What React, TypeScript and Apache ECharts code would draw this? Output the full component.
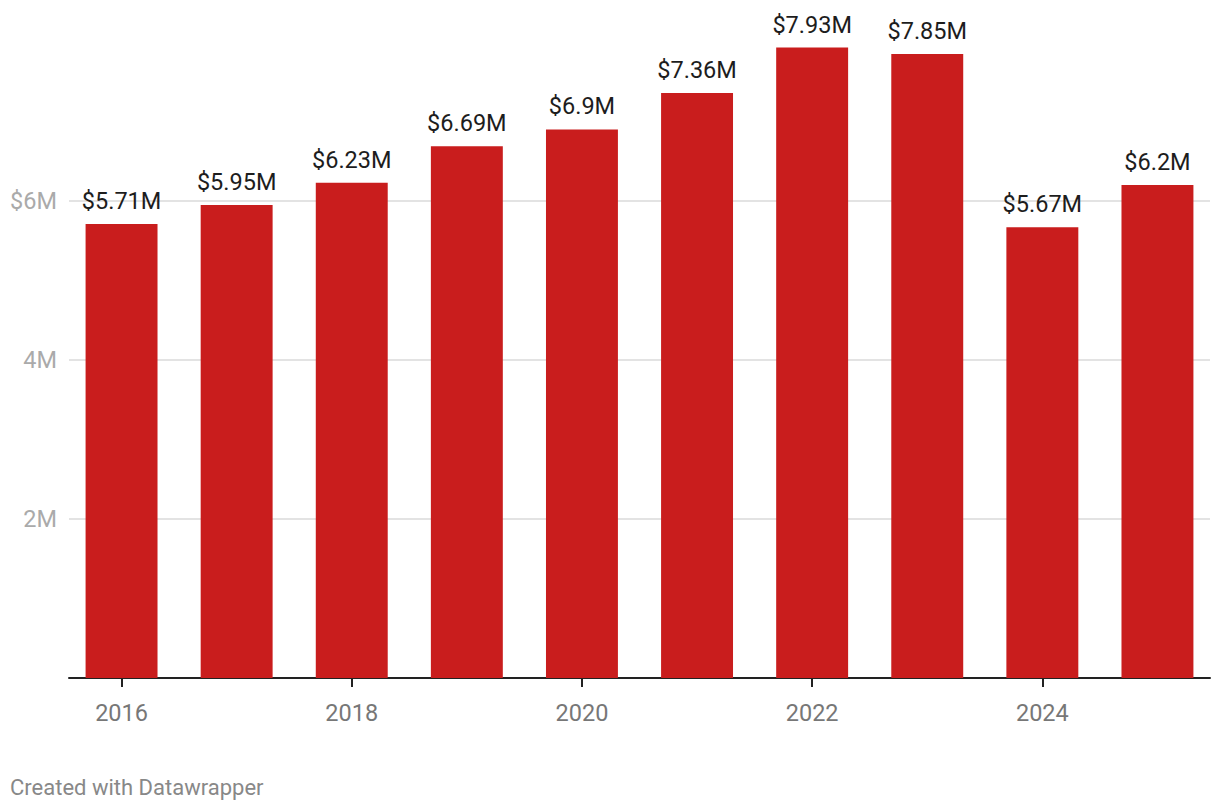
import React, { useEffect, useRef } from "react";
import * as echarts from "echarts";

const years = ["2016", "2017", "2018", "2019", "2020", "2021", "2022", "2023", "2024", "2025"];
const values = [5.71, 5.95, 6.23, 6.69, 6.9, 7.36, 7.93, 7.85, 5.67, 6.2];
const yTicks = [0, 2, 4, 6, 8];

const FONT = "Roboto, 'Noto Sans', sans-serif";

export default function App() {
  const ref = useRef<HTMLDivElement>(null);
  useEffect(() => {
    if (!ref.current) return;
    const chart = echarts.init(ref.current, undefined, { renderer: "svg" });
    chart.setOption({
      animation: false,
      backgroundColor: "#ffffff",
      textStyle: { fontFamily: FONT },
      grid: [
        { left: 64, right: 5, top: 42, height: 636 },
        { left: 69, right: 10, top: 42, height: 636 },
      ],
      xAxis: [
        {
          type: "category",
          data: years,
          gridIndex: 0,
          axisLine: { show: false },
          axisTick: {
            show: true,
            alignWithLabel: true,
            interval: 1,
            length: 9,
            lineStyle: { color: "#222", width: 2 },
          },
          axisLabel: {
            interval: 1,
            margin: 23,
            color: "#777",
            fontSize: 23.5,
            fontFamily: FONT,
          },
        },
        {
          type: "category",
          data: years,
          gridIndex: 1,
          axisLine: { show: true, lineStyle: { color: "#222", width: 2 } },
          axisTick: { show: false },
          axisLabel: { show: false },
        },
      ],
      yAxis: [
        {
          type: "value",
          gridIndex: 0,
          min: yTicks[0],
          max: yTicks[yTicks.length - 1],
          interval: 2,
          show: false,
          splitLine: { show: false },
        },
        {
          type: "value",
          gridIndex: 1,
          min: yTicks[0],
          max: yTicks[yTicks.length - 1],
          interval: 2,
          axisLine: { show: false },
          axisTick: { show: false },
          axisLabel: {
            showMinLabel: false,
            showMaxLabel: false,
            margin: 12,
            color: "#aaa",
            fontSize: 23.5,
            fontFamily: FONT,
            formatter: (v: number) => (v === 6 ? "$" + v + "M" : v + "M"),
          },
          splitLine: {
            show: true,
            showMinLine: false,
            showMaxLine: false,
            lineStyle: { color: "#e3e3e3", width: 2 },
          },
        },
      ],
      series: [
        {
          type: "bar",
          xAxisIndex: 0,
          yAxisIndex: 0,
          data: values,
          barWidth: "62.5%",
          itemStyle: { color: "#c91d1d" },
          label: {
            show: true,
            position: "top",
            distance: 11,
            color: "#1d1d1d",
            fontSize: 23.5,
            fontFamily: FONT,
            formatter: (p: any) => "$" + p.value + "M",
          },
        },
      ],
      graphic: [
        {
          type: "text",
          left: 10,
          top: 776,
          style: {
            text: "Created with Datawrapper",
            fill: "#888",
            fontSize: 22,
            fontFamily: FONT,
          },
        },
      ],
    });
    return () => chart.dispose();
  }, []);
  return <div ref={ref} style={{ width: 1220, height: 810, margin: -8 }} />;
}
